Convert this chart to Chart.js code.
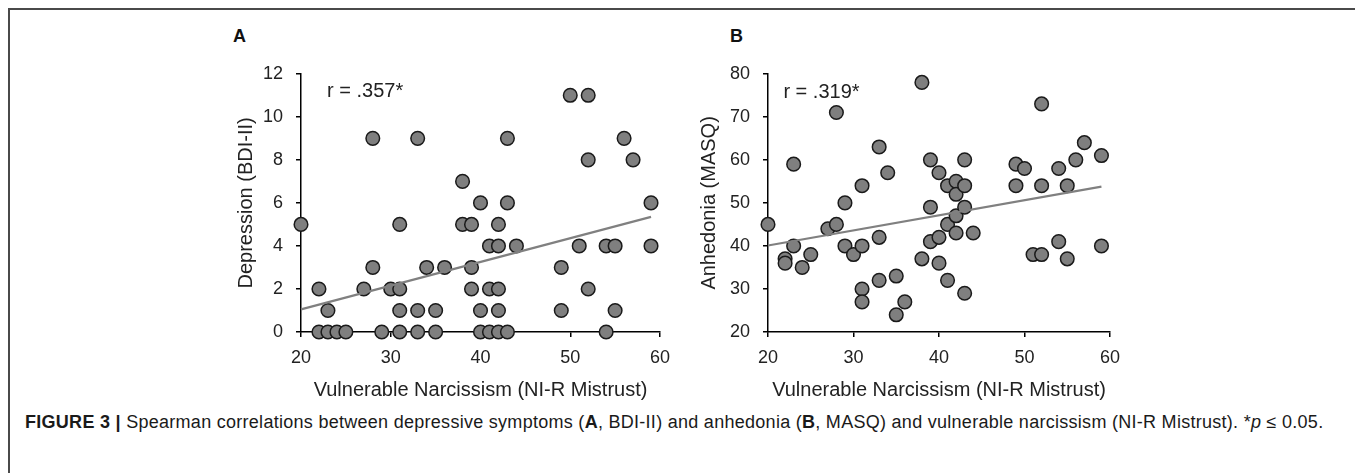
<!DOCTYPE html>
<html>
<head>
<meta charset="utf-8">
<script src="https://cdn.jsdelivr.net/npm/chart.js@4.4.1/dist/chart.umd.min.js"></script>
<style>
  body { margin: 0; background: #fff; width: 1355px; height: 473px; overflow: hidden; position: relative; font-family: "Liberation Sans", Arial, sans-serif; }
  #frame { position: absolute; left: 8px; top: 8px; width: 1400px; height: 500px; border-top: 2px solid #4a4a4a; border-left: 2px solid #4a4a4a; }
  .panel { position: absolute; }
  .letter { position: absolute; font-weight: bold; font-size: 18px; color: #111; }
  #caption { position: absolute; left: 25px; top: 412px; font-size: 18px; letter-spacing: 0.28px; color: #1a1a1a; white-space: nowrap; }
</style>
</head>
<body>
<div id="frame"></div>
<div class="letter" style="left:233px; top:26px;">A</div>
<div class="letter" style="left:730px; top:26px;">B</div>
<div class="panel" style="left:215px; top:50px; width:470px; height:352px;"><canvas id="chartA"></canvas></div>
<div class="panel" style="left:680px; top:50px; width:455px; height:352px;"><canvas id="chartB"></canvas></div>
<div id="caption"><b>FIGURE 3 |</b> Spearman correlations between depressive symptoms (<b>A</b>, BDI-II) and anhedonia (<b>B</b>, MASQ) and vulnerable narcissism (NI-R Mistrust). *<i>p</i> &le; 0.05.</div>

<script>
// panel A - depression (BDI-II) vs NI-R mistrust
var mistrustA = [20, 22, 22, 23, 23, 24, 25, 27, 28, 28, 29, 30, 31, 31, 31, 31, 33, 33, 33, 34, 35, 35, 36, 38, 38, 39, 39, 39, 40, 40, 40, 41, 41, 41, 42, 42, 42, 42, 42, 43, 43, 43, 44, 49, 49, 50, 51, 52, 52, 52, 54, 54, 55, 55, 56, 57, 59, 59];
var depression = [5, 2, 0, 1, 0, 0, 0, 2, 3, 9, 0, 2, 2, 5, 1, 0, 9, 1, 0, 3, 1, 0, 3, 7, 5, 5, 3, 2, 6, 1, 0, 4, 2, 0, 5, 4, 2, 1, 0, 9, 6, 0, 4, 3, 1, 11, 4, 11, 8, 2, 4, 0, 4, 1, 9, 8, 6, 4];
var fitXA = [20, 59];
var fitYA = [1.05, 5.35];

// panel B - anhedonia (MASQ) vs NI-R mistrust
var mistrustB = [20, 22, 22, 23, 23, 24, 25, 27, 28, 28, 29, 29, 30, 31, 31, 31, 31, 33, 33, 33, 34, 35, 35, 36, 38, 38, 39, 39, 39, 40, 40, 40, 41, 41, 41, 42, 42, 42, 42, 43, 43, 43, 43, 44, 49, 49, 50, 51, 52, 52, 52, 54, 54, 55, 55, 56, 57, 59, 59];
var anhedonia = [45, 37, 36, 59, 40, 35, 38, 44, 71, 45, 50, 40, 38, 54, 40, 30, 27, 63, 42, 32, 57, 33, 24, 27, 78, 37, 60, 49, 41, 57, 42, 36, 54, 45, 32, 55, 52, 47, 43, 60, 54, 49, 29, 43, 59, 54, 58, 38, 73, 54, 38, 58, 41, 54, 37, 60, 64, 61, 40];
var fitXB = [20, 59];
var fitYB = [40.1, 53.8];

var xTicks = [20, 30, 40, 50, 60];

var FONT = "'Liberation Sans', Arial, sans-serif";

// draws the "r = ..." note at a data position
var rLabel = {
  id: "rLabel",
  afterDatasetsDraw: function (chart, args, opts) {
    var ctx = chart.ctx;
    ctx.save();
    ctx.font = "20px " + FONT;
    ctx.fillStyle = "#222";
    ctx.textBaseline = "middle";
    ctx.fillText(opts.text, chart.scales.x.getPixelForValue(opts.x), chart.scales.y.getPixelForValue(opts.y));
    ctx.restore();
  },
};

const makeChart = (id, xs, ys, fx, fy, yOpts, yTitle, note, yWidth, yTitlePad, padTop) => {
  var pts = xs.map(function (v, i) {
    return { x: v, y: ys[i] };
  });
  var fit = fx.map(function (v, i) {
    return { x: v, y: fy[i] };
  });
  var ctx = document.getElementById(id).getContext("2d");
  return new Chart(ctx, {
    type: "scatter",
    data: {
      datasets: [
        {
          data: fit,
          type: "line",
          showLine: true,
          borderColor: "#808080",
          borderWidth: 2.2,
          pointRadius: 0,
          fill: false,
          clip: false,
          order: 0,
        },
        {
          data: pts,
          pointRadius: 6.8,
          pointBorderWidth: 1.5,
          pointBackgroundColor: "#7f7f7f",
          pointBorderColor: "#1a1a1a",
          clip: false,
          order: 1,
        },
      ],
    },
    plugins: [rLabel],
    options: {
      responsive: true,
      maintainAspectRatio: false,
      animation: false,
      layout: { autoPadding: false, padding: { top: padTop, right: 25, left: 0, bottom: 0 } },
      plugins: {
        legend: { display: false },
        tooltip: { enabled: false },
        rLabel: note,
      },
      scales: {
        x: {
          type: "linear",
          min: 20,
          max: 60,
          afterBuildTicks: function (axis) {
            axis.ticks = xTicks.map(function (v) { return { value: v }; });
          },
          afterFit: function (axis) { axis.height = 70; },
          border: { color: "#000", width: 1.5 },
          grid: { drawOnChartArea: false, drawTicks: true, tickLength: 5, color: "#000", lineWidth: 1.5 },
          ticks: { color: "#222", padding: 10, font: { family: FONT, size: 18 } },
          title: {
            display: true,
            text: "Vulnerable Narcissism (NI-R Mistrust)",
            color: "#222",
            padding: 0,
            font: { family: FONT, size: 20 },
          },
        },
        y: {
          type: "linear",
          min: yOpts.min,
          max: yOpts.max,
          afterFit: function (axis) { axis.width = yWidth; },
          border: { color: "#000", width: 1.5 },
          grid: { drawOnChartArea: false, drawTicks: true, tickLength: 5, color: "#000", lineWidth: 1.5 },
          ticks: { stepSize: yOpts.step, color: "#222", padding: 13, font: { family: FONT, size: 18 } },
          title: {
            display: true,
            text: yTitle,
            color: "#222",
            padding: { top: yTitlePad, bottom: 0 },
            font: { family: FONT, size: 20 },
          },
        },
      },
    },
  });
};

makeChart("chartA", mistrustA, depression, fitXA, fitYA, { min: 0, max: 12, step: 2 }, "Depression (BDI-II)", { text: "r = .357*", x: 22.9, y: 11.2 }, 86, 19, 20);
makeChart("chartB", mistrustB, anhedonia, fitXB, fitYB, { min: 20, max: 80, step: 10 }, "Anhedonia (MASQ)", { text: "r = .319*", x: 21.8, y: 75.7 }, 88, 17, 19);
</script>
</body>
</html>
